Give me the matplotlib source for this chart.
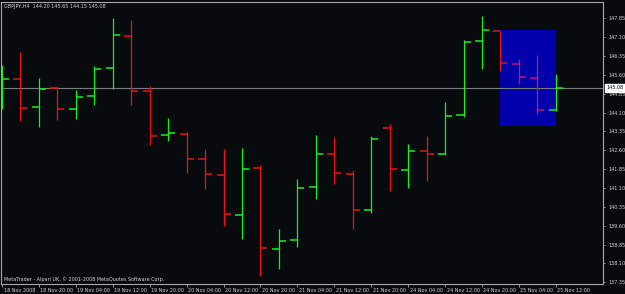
import matplotlib
matplotlib.use("Agg")
import matplotlib.pyplot as plt
import matplotlib.transforms as mtransforms
from matplotlib.patches import Rectangle

# ---------------- data ----------------
symbol_title = "GBPJPY,H4  144.20 145.65 144.15 145.08"
copyright_text = "MetaTrader - Alpari UK, \u00a9 2001-2008 MetaQuotes Software Corp."

opens  = [144.60, 145.44, 144.31, 145.07, 144.24, 144.75, 145.87, 147.16, 144.96, 143.22,
          143.26, 142.24, 141.62, 140.03, 141.91, 138.69, 139.02, 141.14, 142.45, 141.67,
          140.22, 143.49, 141.83, 142.57, 142.45, 144.02, 146.96, 147.34, 146.04, 145.49,
          144.20]
highs  = [145.99, 146.50, 145.46, 145.17, 145.00, 145.94, 147.86, 147.78, 145.16, 143.88,
          143.33, 142.66, 142.64, 142.69, 142.03, 139.46, 141.45, 143.21, 143.13, 141.80,
          143.17, 143.66, 142.85, 143.17, 144.52, 146.99, 147.94, 147.36, 146.23, 146.38,
          145.65]
lows   = [144.24, 143.78, 143.53, 143.79, 143.86, 144.41, 145.03, 144.41, 142.80, 142.98,
          141.71, 141.05, 139.60, 139.08, 137.59, 137.87, 138.75, 140.67, 141.27, 139.46,
          140.12, 140.98, 141.11, 141.38, 142.41, 143.94, 145.83, 145.74, 145.22, 144.04,
          144.15]
closes = [145.44, 144.28, 145.04, 144.23, 144.73, 145.82, 147.17, 144.96, 143.18, 143.28,
          142.27, 141.64, 140.05, 141.87, 138.70, 138.99, 141.09, 142.46, 141.71, 140.24,
          143.05, 141.84, 142.56, 142.45, 143.96, 146.91, 147.37, 146.07, 145.50, 144.21,
          145.08]

time_labels = ["18 Nov 2008", "18 Nov 20:00", "19 Nov 04:00", "19 Nov 12:00", "19 Nov 20:00",
               "20 Nov 04:00", "20 Nov 12:00", "20 Nov 20:00", "21 Nov 04:00", "21 Nov 12:00",
               "21 Nov 20:00", "24 Nov 04:00", "24 Nov 12:00", "24 Nov 20:00", "25 Nov 04:00",
               "25 Nov 12:00"]
label_bar_step = 2

price_ticks = [147.85, 147.10, 146.35, 145.60, 144.85, 144.10, 143.35, 142.60, 141.85,
               141.10, 140.35, 139.60, 138.85, 138.10, 137.35]
bid_price = 145.08

# rectangle object (bar index range, price range)
rect_bar_start, rect_bar_end = 27, 30
rect_price_low, rect_price_high = 143.58, 147.38

# ---------------- style ----------------
BG = "#070b0e"
FG = "#d4d4d4"
AX = "#a8a8a8"
UP = "#18f018"
DN = "#f01010"
DN_IN = "#c8146a"
RECT = "#0000aa"
FS = 3.5

fig = plt.figure(figsize=(6.25, 2.94), dpi=100, facecolor=BG)
W, H = 625, 294
ax_left, ax_right, ax_top, ax_bottom = 1.0, 603.3, 1.7, 284.3
ax = fig.add_axes([ax_left / W, (H - ax_bottom) / H, (ax_right - ax_left) / W, (ax_bottom - ax_top) / H])
ax.set_facecolor(BG)

px_per_bar = 18.46
ax.set_xlim(-1.0 / px_per_bar, (ax_right - ax_left - 1.0) / px_per_bar)
ax.set_ylim(137.27, 148.51)

n = len(opens)
xs = list(range(n))
tick_len = 0.38

for i in xs:
    o, h, l, c = opens[i], highs[i], lows[i], closes[i]
    col = UP if c >= o else DN
    if col == DN and rect_bar_start < i <= rect_bar_end:
        col = DN_IN
    ax.vlines(i, l, h, colors=col, linewidth=0.9, zorder=3)
    ax.hlines(o, i - tick_len, i, colors=col, linewidth=1.1, zorder=3)
    ax.hlines(c, i, i + tick_len, colors=col, linewidth=1.1, zorder=3)

ax.add_patch(Rectangle((rect_bar_start, rect_price_low), rect_bar_end - rect_bar_start,
                       rect_price_high - rect_price_low, facecolor=RECT, edgecolor="none", zorder=1))

ax.axhline(bid_price, color="#7c7c7c", linewidth=0.8, zorder=2)

# spines
for s in ["left", "top", "right", "bottom"]:
    ax.spines[s].set_color(AX)
    ax.spines[s].set_linewidth(0.8)

# y axis on the right
ax.yaxis.tick_right()
ax.set_yticks(price_ticks)
ax.set_yticklabels([f"{p:.2f}" for p in price_ticks])
ax.tick_params(axis="y", direction="out", length=1.6, width=0.6, colors=AX, pad=1.8,
               labelsize=FS, labelcolor=FG)

# x axis
ax.set_xticks([k * label_bar_step for k in range(len(time_labels))])
ax.set_xticklabels(time_labels)
ax.tick_params(axis="x", direction="out", length=2.0, width=0.6, colors=AX, pad=0.8,
               labelsize=FS, labelcolor=FG)
offset = mtransforms.ScaledTranslation(1.5 / 100, 0, fig.dpi_scale_trans)
for lab in ax.get_xticklabels():
    lab.set_horizontalalignment("left")
    lab.set_transform(lab.get_transform() + offset)

# bid price label box
trans = mtransforms.blended_transform_factory(ax.transAxes, ax.transData)
ax.text(1.005, bid_price, f"{bid_price:.2f}", transform=trans, fontsize=FS, color="black",
        va="center", ha="left", clip_on=False, zorder=5,
        bbox=dict(boxstyle="square,pad=0.22", facecolor="white", edgecolor="white"))

# title and copyright
ax.text(3.0 / (ax_right - ax_left), 1 - 4.6 / (ax_bottom - ax_top), symbol_title,
        transform=ax.transAxes, fontsize=FS, color=FG, va="center", ha="left")
ax.text(3.0 / (ax_right - ax_left), 5.2 / (ax_bottom - ax_top), copyright_text,
        transform=ax.transAxes, fontsize=FS, color=FG, va="center", ha="left")

fig.savefig("out.png", dpi=100, facecolor=BG)
